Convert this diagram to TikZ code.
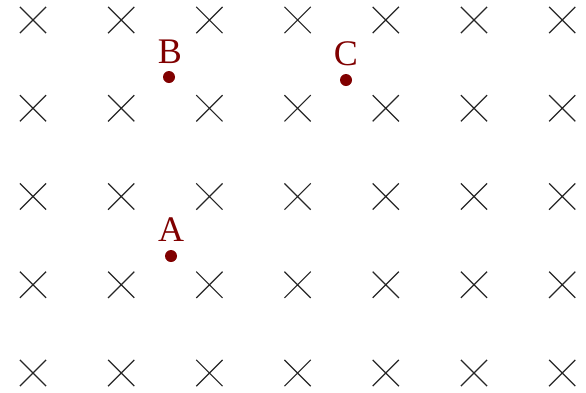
\documentclass[tikz,border=0pt]{standalone}
\usepackage{fontspec}
\setmainfont{Liberation Serif}
\usetikzlibrary{shapes.misc}
\definecolor{darkred}{RGB}{128,0,0}
\tikzset{fieldcross/.style={
  shape=cross out,
  draw=black!85,
  line width=1.2pt,
  minimum size=25pt,
  inner sep=0pt,
  },
  chargedot/.style={
  shape=circle,
  fill=darkred,
  minimum size=12pt,
  inner sep=0pt,
  },
  chargelabel/.style={
  text=darkred,
  font=\fontsize{36}{36}\selectfont,
  inner sep=0pt,
  }
}

\begin{document}
\begin{tikzpicture}[x=1pt,y=-1pt]
  \useasboundingbox (0,0) rectangle (586,392);

  % field into the page
  \foreach \i in {0,...,6} {
    \foreach \j in {0,...,4} {
      \node [fieldcross] (x\i\j) at ({33+88.2*\i},{20+88.25*\j}) {};
    }
  }

  \node [chargedot] (B) at (169,77) {};
  \node [chargedot] (C) at (346,80) {};
  \node [chargedot] (A) at (171,256) {};

  \node [chargelabel] (lB) at (170,52) {B};
  \node [chargelabel] (lC) at (346,54) {C};
  \node [chargelabel] (lA) at (171,230) {A};
\end{tikzpicture}
\end{document}
